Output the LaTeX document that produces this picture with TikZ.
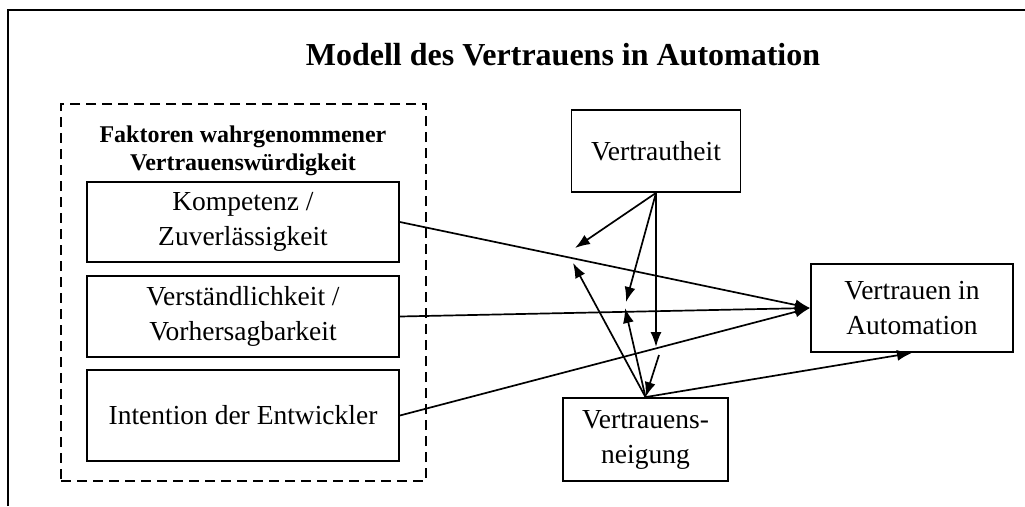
\documentclass[tikz,border=0pt]{standalone}
\usepackage{fontspec}
\setmainfont{Liberation Serif}
\usetikzlibrary{arrows.meta}

\tikzset{
		box/.style={draw, line width=1.8pt, inner sep=0pt, align=center, font=\fontsize{27.5}{35}\selectfont},
		group/.style={draw, dash pattern=on 10pt off 6pt, line width=1.8pt},
		arrow/.style={-{Latex[length=15pt,width=11pt]}, line width=1.7pt},
		plain/.style={line width=1.8pt}
	}

\begin{document}
\begin{tikzpicture}[x=1pt,y=-1pt]
\useasboundingbox (0,0) rectangle (1025,506);

\draw [plain] (8,506) -- (8,10) -- (1025,10);

\node (title) at (563,55) [font=\fontsize{32}{36}\selectfont\bfseries] {Modell des Vertrauens in Automation};

\node (factors) at (243.5,292.5) [group,minimum width=365pt,minimum height=377pt] {};
\node (factorshead) at (243,151) [align=center,font=\fontsize{24}{28}\selectfont\bfseries] {Faktoren wahrgenommener\\Vertrauenswürdigkeit};

\node (komp) at (243,222) [box,minimum width=312pt,minimum height=80pt] {Kompetenz /\\Zuverlässigkeit};
\node (verst) at (243,316.5) [box,minimum width=312pt,minimum height=81pt] {Verständlichkeit /\\Vorhersagbarkeit};
\node (intent) at (243,415.5) [box,minimum width=312pt,minimum height=91pt] {Intention der Entwickler};

\node (vertr) at (656,151) [box,minimum width=169pt,minimum height=82pt] {Vertrautheit};
\node (auto) at (912,308) [box,minimum width=202pt,minimum height=88pt] {Vertrauen in\\Automation};
\node (neig) at (645.5,439.5) [box,minimum width=165pt,minimum height=83pt] {Vertrauens-\\neigung};

\coordinate (m1) at (575,248);
\coordinate (m2) at (626,302);
\coordinate (m3) at (656,347);
\coordinate (n1) at (573,263);
\coordinate (n2) at (625,308);
\coordinate (b1) at (659,355);

\draw [arrow] (komp.east) -- (auto.west);
\draw [arrow] (verst.east) -- (auto.west);
\draw [arrow] (intent.east) -- (auto.west);

\draw [arrow] (vertr.south) -- (m1);
\draw [arrow] (vertr.south) -- (m2);
\draw [arrow] (vertr.south) -- (m3);

\draw [arrow] (neig.north) -- (n1);
\draw [arrow] (neig.north) -- (n2);
\draw [arrow] (b1) -- (neig.north);
\draw [arrow] (neig.north) -- (auto.south);

\end{tikzpicture}
\end{document}
